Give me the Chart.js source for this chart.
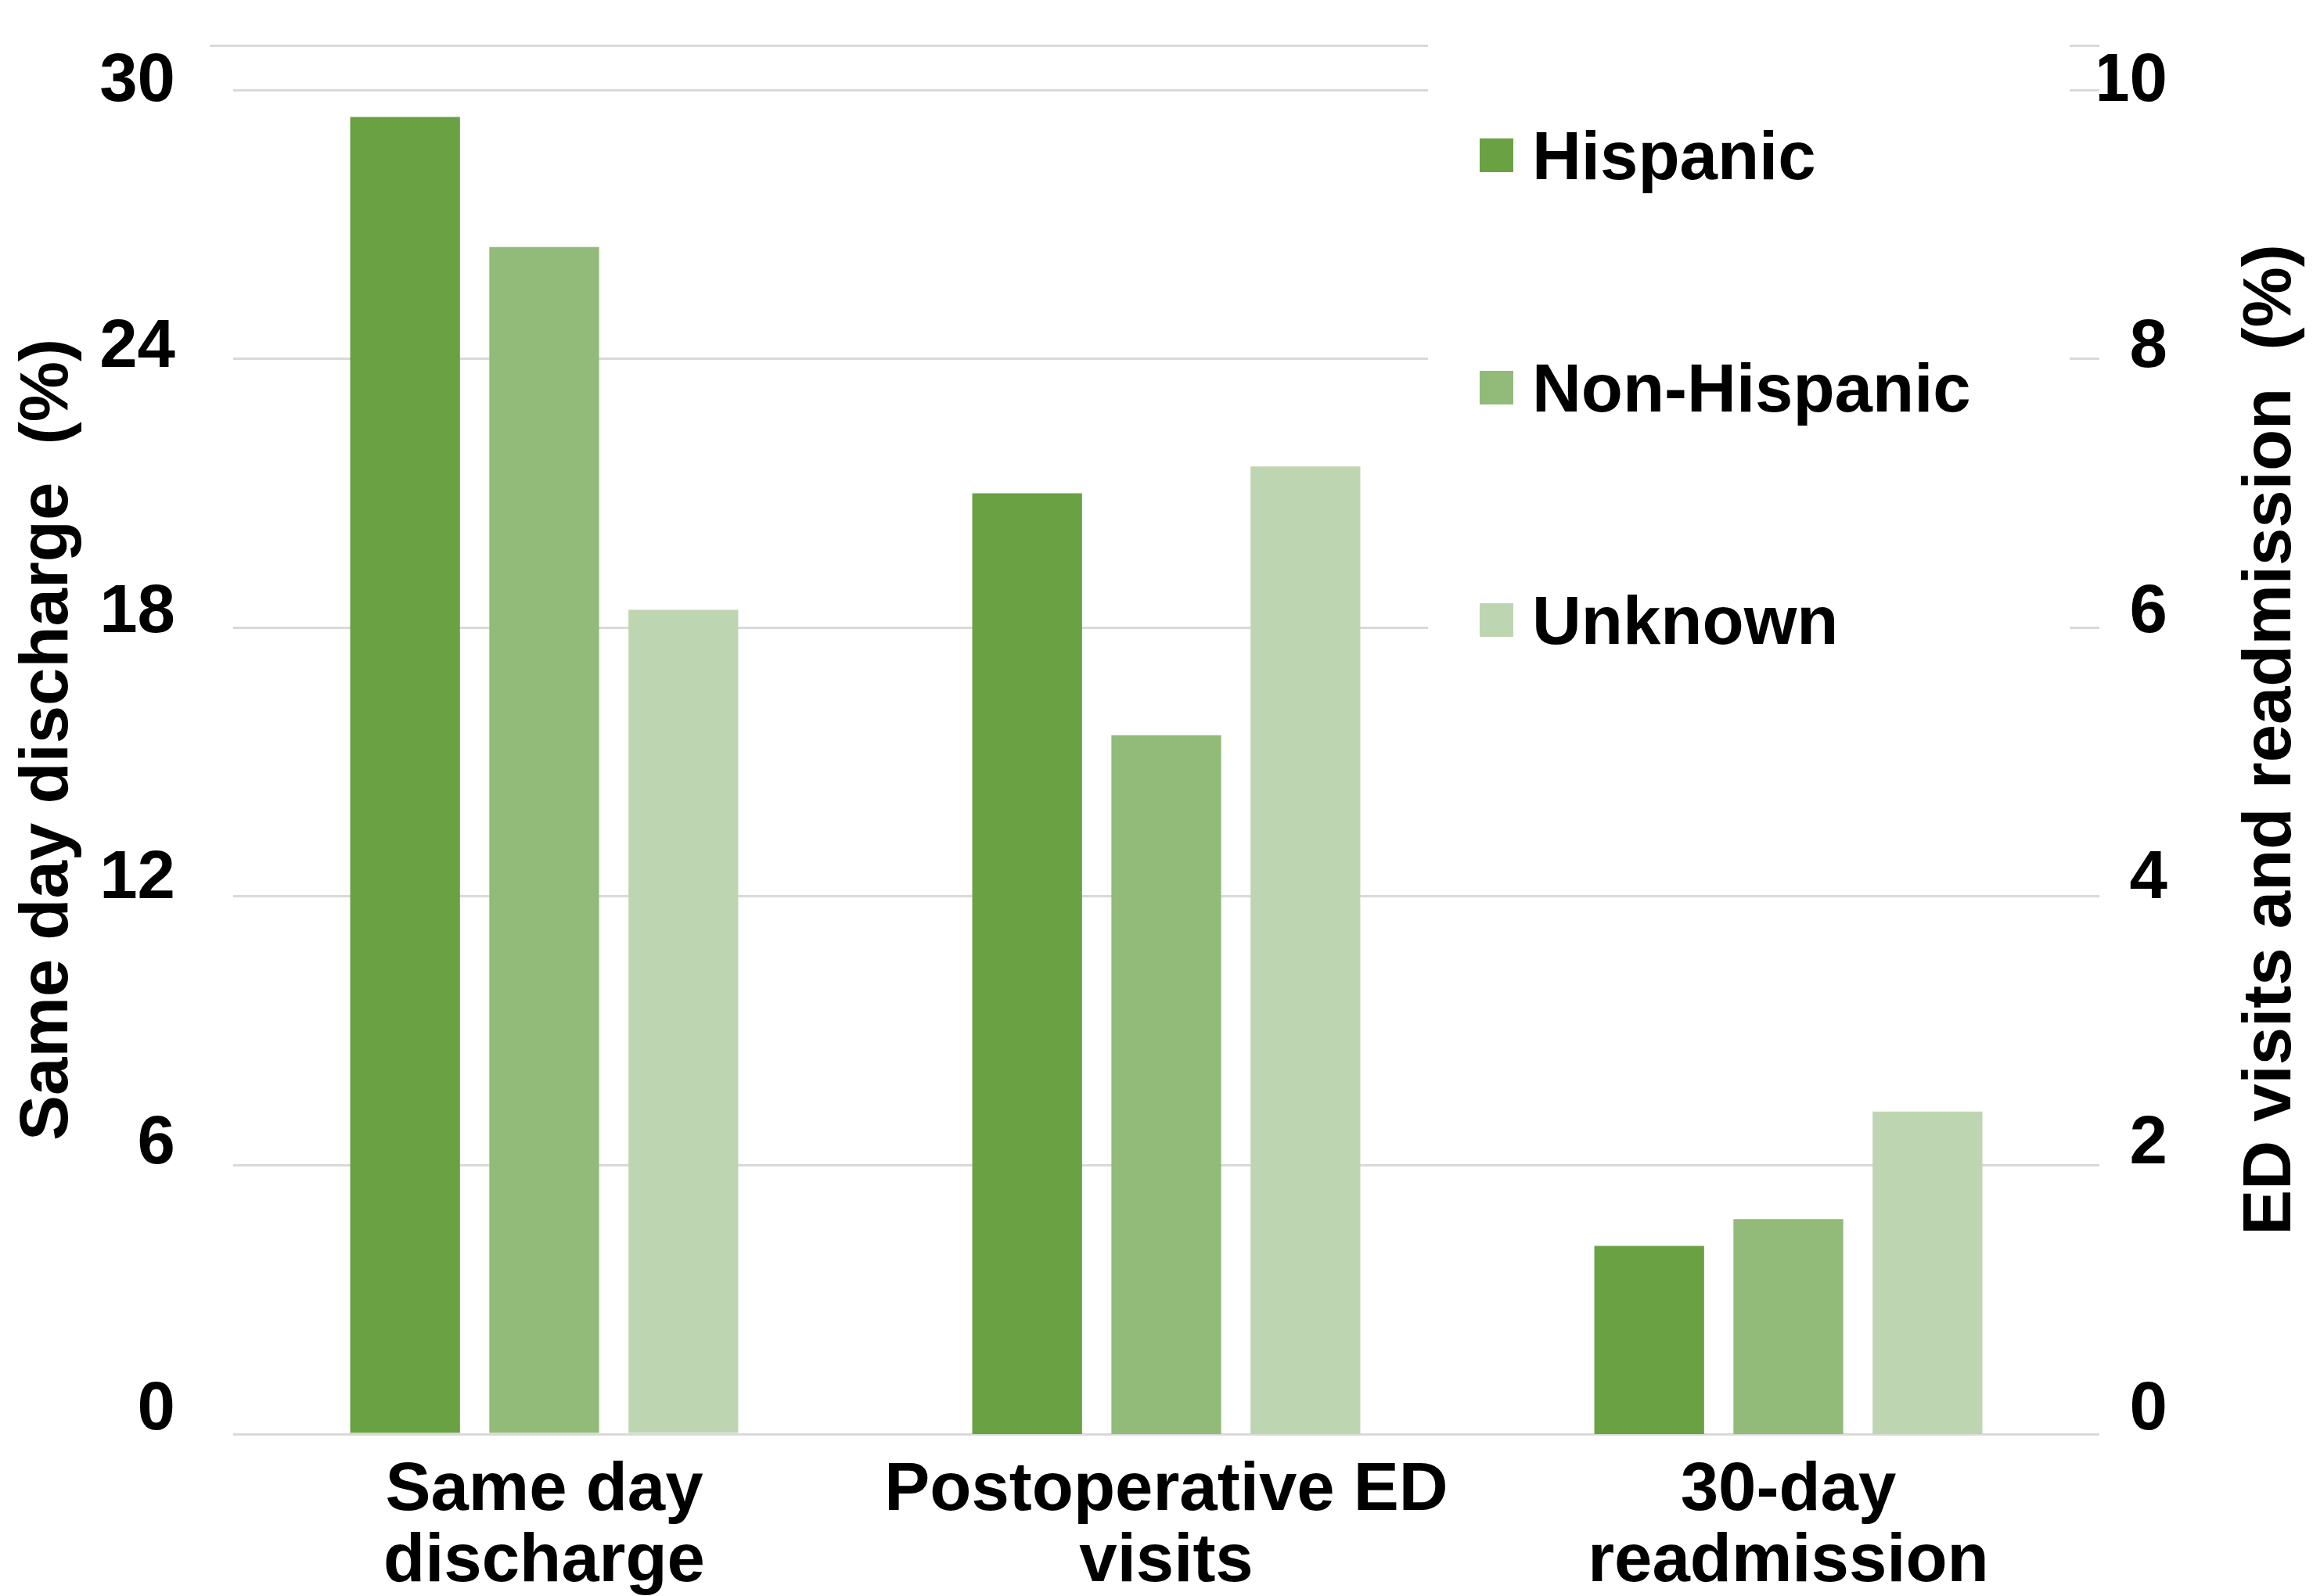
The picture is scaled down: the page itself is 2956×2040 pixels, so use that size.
<!DOCTYPE html>
<html>
<head>
<meta charset="utf-8">
<script src="https://cdn.jsdelivr.net/npm/chart.js@4.4.1/dist/chart.umd.min.js"></script>
<style>
  html, body { margin: 0; padding: 0; background: #fff; overflow: hidden; }
  #wrap { position: relative; width: 2956px; height: 2040px; overflow: hidden; }
  #legend { position: absolute; left: 1825px; top: 0; width: 820px; height: 886px; background: #fff;
            font-family: 'Liberation Sans', Arial, sans-serif; font-weight: bold; font-size: 87px; color: #000; }
  .item { position: absolute; left: 66px; height: 100px; display: flex; align-items: center; }
  .box { width: 43px; height: 43px; margin-right: 24px; }
  .item span { line-height: 1; white-space: nowrap; }
</style>
</head>
<body>
<div id="wrap">
  <canvas id="outcomes_chart" width="2956" height="2100"></canvas>
  <div id="legend"></div>
</div>
<script>
// categories on the x axis
const categories = [['Same day', 'discharge'], ['Postoperative ED', 'visits'], ['30-day', 'readmission']];
const groups = ['Hispanic', 'Non-Hispanic', 'Unknown'];
const colors = ['#6aa143', '#92ba79', '#bed5b2'];

// left axis (%), one value per group
const sameDayDischarge = [29.4, 26.5, 18.4];
// right axis (%), one value per group
const edVisits = [7.0, 5.2, 7.2];
const readmission = [1.4, 1.6, 2.4];

// tick labels
const leftTicks = [0, 6, 12, 18, 24, 30];
const rightTicks = [0, 2, 4, 6, 8, 10];
const leftMax = 31;

const leftTitle = 'Same day discharge  (%)';
const rightTitle = 'ED visits and readmission  (%)';
const font = { family: "'Liberation Sans', Arial, sans-serif", weight: 'bold', size: 87 };

var datasets = [];
groups.forEach(function (g, i) {
    datasets.push({
        label: g,
        data: [sameDayDischarge[i], null, null],
        backgroundColor: colors[i],
        yAxisID: 'y',
        stack: g
    });
    datasets.push({
        label: g + ' (right)',
        data: [null, edVisits[i], readmission[i]],
        backgroundColor: colors[i],
        yAxisID: 'y1',
        stack: g
    });
});

// legend drawn as html over the plot (white box hides the gridlines like the original)
var legendTops = [148, 445, 742];
groups.forEach(function (g, i) {
    let item = document.createElement('div');
    item.className = 'item';
    item.style.top = legendTops[i] + 'px';
    item.innerHTML = '<div class="box" style="background:' + colors[i] + '"></div><span>' + g + '</span>';
    document.getElementById('legend').appendChild(item);
});

const rightTitlePlugin = {
    id: 'rightTitle',
    afterDraw(chart) {
        const ctx = chart.ctx;
        const s = chart.scales.y1;
        ctx.save();
        ctx.translate(chart.width - 53, (s.top + s.bottom) / 2);
        ctx.rotate(-Math.PI / 2);
        ctx.font = 'bold 87px "Liberation Sans", Arial, sans-serif';
        ctx.fillStyle = '#000';
        ctx.textAlign = 'center';
        ctx.textBaseline = 'middle';
        ctx.fillText(rightTitle, 0, 0);
        ctx.restore();
    }
};

function noPad(s) {
    s.paddingTop = 0;
    s.paddingBottom = 0;
}

// tick labels sit a little above their gridlines in the original, more so near the bottom
function tickFont(top) {
    return function (c) {
        let f = c.tick ? c.tick.value / top : 0;
        return Object.assign({}, font, { lineHeight: (2 * (30 - 20 * f)) + 'px' });
    };
}
function raised(v) {
    return [String(v), ''];
}

var ctx = document.getElementById('outcomes_chart');
let barChart = new Chart(ctx, {
    type: 'bar',
    data: {
        labels: categories,
        datasets: datasets
    },
    options: {
        responsive: false,
        animation: false,
        layout: { padding: { top: 58, left: 0, right: 2956 - 2770, bottom: 0 } },
        datasets: { bar: { categoryPercentage: 0.671, barPercentage: 0.789 } },
        plugins: {
            legend: { display: false },
            tooltip: { enabled: false }
        },
        scales: {
            x: {
                grid: { display: false, drawTicks: false },
                border: { display: false },
                ticks: { font: Object.assign({ lineHeight: 1.05 }, font), color: '#000', padding: 27, maxRotation: 0, autoSkip: false },
                afterFit: function (s) { s.height = 2100 - 1833; }
            },
            y: {
                position: 'left',
                min: 0,
                max: leftMax,
                grid: {
                    color: '#d9d9d9', lineWidth: 3, drawTicks: true, tickLength: 30,
                    tickColor: function (c) { return c.tick && c.tick.value === leftMax ? '#d9d9d9' : 'rgba(0,0,0,0)'; }
                },
                border: { display: false },
                ticks: {
                    padding: 44, font: tickFont(30), color: '#000', autoSkip: false,
                    callback: function (v) { return leftTicks.indexOf(v) >= 0 ? raised(v) : ''; }
                },
                afterBuildTicks: function (s) {
                    s.ticks = leftTicks.concat([leftMax]).map(function (v) { return { value: v }; });
                },
                title: { display: true, text: leftTitle, font: font, color: '#000', padding: { top: 10, bottom: 0 } },
                afterFit: function (s) { s.width = 298; noPad(s); }
            },
            y1: {
                position: 'right',
                min: 0,
                max: leftMax / 3,
                grid: { display: false, drawTicks: false },
                border: { display: false },
                ticks: {
                    padding: 0, crossAlign: 'far', font: tickFont(10), color: '#000', autoSkip: false,
                    callback: raised
                },
                afterBuildTicks: function (s) {
                    s.ticks = rightTicks.map(function (v) { return { value: v }; });
                },
                afterFit: function (s) { s.width = 2770 - 2683; noPad(s); }
            }
        }
    },
    plugins: [rightTitlePlugin]
});
window.myChart = barChart;
</script>
</body>
</html>
